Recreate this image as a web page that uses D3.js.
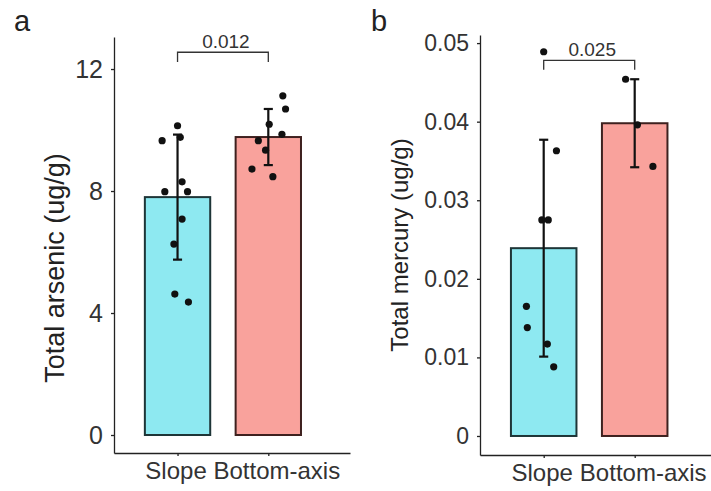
<!DOCTYPE html>
<html>
<head>
<meta charset="utf-8">
<script src="https://cdn.jsdelivr.net/npm/d3@7"></script>
<style>
  html, body { margin: 0; padding: 0; background: #fff; }
  svg { display: block; font-family: "Liberation Sans", Arial, Helvetica, sans-serif; }
</style>
</head>
<body>
<svg id="chart" width="711" height="491"></svg>
<script>
// ---------- data ----------
const categories = ["Slope", "Bottom-axis"];

// Panel a: total arsenic (ug/g)
const arsenicMeans = [7.8, 9.77];
const arsenicSD = [2.05, 0.92];
const arsenicSlope = [10.14, 9.65, 9.76, 8.3, 7.98, 7.98, 7.08, 6.26, 4.62, 4.36];
const arsenicSlopeJitter = [0.0, -0.17, 0.03, 0.05, -0.14, 0.11, 0.05, -0.04, -0.03, 0.12];
const arsenicBottom = [11.12, 10.69, 10.19, 9.86, 9.65, 9.34, 8.72, 8.47];
const arsenicBottomJitter = [0.16, 0.19, 0.01, 0.15, -0.11, -0.03, -0.18, 0.05];
const arsenicTicks = [0, 4, 8, 12];
const arsenicBracket = [12.55, 12.23]; // bracket top, bracket leg end
const arsenicP = "0.012";

// Panel b: total mercury (ug/g)
const mercuryMeans = [0.0239, 0.0398];
const mercurySD = [0.0138, 0.0056];
const mercurySlope = [0.0489, 0.0363, 0.0275, 0.0275, 0.0165, 0.0138, 0.0117, 0.0088];
const mercurySlopeJitter = [0.0, 0.14, -0.02, 0.05, -0.19, -0.18, 0.04, 0.11];
const mercuryBottom = [0.0454, 0.0396, 0.0343];
const mercuryBottomJitter = [-0.1, 0.03, 0.2];
const mercuryTicks = [0, 0.01, 0.02, 0.03, 0.04, 0.05];
const mercuryBracket = [0.0478, 0.0466];
const mercuryP = "0.025";

const fills = ["#8EE9F1", "#F9A29C"];
const strokes = ["#1E3537", "#3E211F"];

// ---------- drawing ----------
const svg = d3.select("#chart");

function drawPanel(cfg) {
  const g = svg.append("g");
  const x = d3.scaleLinear().domain([0.3, 2.9]).range(cfg.xRange);
  const y = d3.scaleLinear().domain(cfg.yDomain).range(cfg.yRange);
  const step = x(2) - x(1);
  const barW = 0.72;

  // bars
  g.selectAll("rect.bar").data(cfg.means).join("rect")
    .attr("class", "bar")
    .attr("x", (d, i) => x(i + 1 - barW / 2))
    .attr("width", x(1 + barW / 2) - x(1 - barW / 2))
    .attr("y", d => y(d))
    .attr("height", d => y(0) - y(d))
    .attr("fill", (d, i) => fills[i])
    .attr("stroke", (d, i) => strokes[i])
    .attr("stroke-width", 2);

  // points
  const pts = [];
  cfg.points.forEach((arr, i) => arr.forEach((v, j) => pts.push({ c: i + 1, v, jit: cfg.jitters[i][j] })));
  g.selectAll("circle.pt").data(pts).join("circle")
    .attr("class", "pt")
    .attr("cx", d => x(d.c + d.jit))
    .attr("cy", d => y(d.v))
    .attr("r", 3.6)
    .attr("fill", "#111");

  // error bars
  const eb = g.selectAll("g.eb").data(cfg.means).join("g").attr("class", "eb")
    .attr("stroke", "#111").attr("stroke-width", 2.2).attr("fill", "none");
  const capHalf = 0.05;
  eb.append("line")
    .attr("x1", (d, i) => x(i + 1)).attr("x2", (d, i) => x(i + 1))
    .attr("y1", (d, i) => y(d - cfg.sd[i])).attr("y2", (d, i) => y(d + cfg.sd[i]));
  eb.append("line")
    .attr("x1", (d, i) => x(i + 1 - capHalf)).attr("x2", (d, i) => x(i + 1 + capHalf))
    .attr("y1", (d, i) => y(d + cfg.sd[i])).attr("y2", (d, i) => y(d + cfg.sd[i]));
  eb.append("line")
    .attr("x1", (d, i) => x(i + 1 - capHalf)).attr("x2", (d, i) => x(i + 1 + capHalf))
    .attr("y1", (d, i) => y(d - cfg.sd[i])).attr("y2", (d, i) => y(d - cfg.sd[i]));

  // significance bracket
  const [bTop, bLeg] = cfg.bracket;
  g.append("path")
    .attr("d", `M${x(1)},${y(bLeg)}V${y(bTop)}H${x(2)}V${y(bLeg)}`)
    .attr("fill", "none").attr("stroke", "#333").attr("stroke-width", 1.3);
  g.append("text")
    .attr("x", (x(1) + x(2)) / 2 + 3)
    .attr("y", y(bTop) - 4)
    .attr("text-anchor", "middle")
    .attr("font-size", 19)
    .attr("fill", "#333")
    .text(cfg.p);

  // y axis
  const yAxis = g.append("g")
    .attr("transform", `translate(${cfg.xRange[0]},0)`)
    .call(d3.axisLeft(y).tickValues(cfg.ticks).tickFormat(cfg.fmt).tickSize(3).tickSizeOuter(0).tickPadding(8));
  yAxis.select(".domain").attr("stroke", "#222").attr("stroke-width", 1.3);
  yAxis.selectAll(".tick line").attr("stroke", "#222").attr("stroke-width", 1.3);
  yAxis.selectAll(".tick text").attr("font-size", cfg.tickFont).attr("fill", "#333")
    .attr("font-family", "Liberation Sans, Arial, sans-serif");

  // x axis
  const xAxis = g.append("g")
    .attr("transform", `translate(0,${cfg.yRange[0]})`)
    .call(d3.axisBottom(x).tickValues([1, 2]).tickFormat(d => categories[d - 1]).tickSize(3).tickSizeOuter(0).tickPadding(6));
  xAxis.select(".domain").attr("stroke", "#222").attr("stroke-width", 1.3);
  xAxis.selectAll(".tick line").attr("stroke", "#222").attr("stroke-width", 1.3);
  xAxis.selectAll(".tick text").attr("font-size", 24).attr("fill", "#333")
    .attr("font-family", "Liberation Sans, Arial, sans-serif")
    .attr("dx", (d, i) => i === 0 ? -2 : 8);

  // y title
  g.append("text")
    .attr("transform", `translate(${cfg.titleX},${cfg.titleY}) rotate(-90)`)
    .attr("text-anchor", "middle")
    .attr("font-size", cfg.titleFont)
    .attr("fill", "#222")
    .text(cfg.title);

  // panel letter
  g.append("text")
    .attr("x", cfg.letterX).attr("y", 31)
    .attr("font-size", 29)
    .attr("fill", "#222")
    .text(cfg.letter);
}

drawPanel({
  xRange: [114, 350], yDomain: [-0.59, 13.05], yRange: [453, 37],
  means: arsenicMeans, sd: arsenicSD,
  points: [arsenicSlope, arsenicBottom], jitters: [arsenicSlopeJitter, arsenicBottomJitter],
  ticks: arsenicTicks, fmt: d3.format("d"), tickFont: 25,
  bracket: arsenicBracket, p: arsenicP,
  title: "Total arsenic (ug/g)", titleX: 64, titleY: 268, titleFont: 27,
  letter: "a", letterX: 14
});

drawPanel({
  xRange: [480, 716.6], yDomain: [-0.00242, 0.05103], yRange: [455, 35],
  means: mercuryMeans, sd: mercurySD,
  points: [mercurySlope, mercuryBottom], jitters: [mercurySlopeJitter, mercuryBottomJitter],
  ticks: mercuryTicks, fmt: d => d === 0 ? "0" : d3.format(".2f")(d), tickFont: 23,
  bracket: mercuryBracket, p: mercuryP,
  title: "Total mercury (ug/g)", titleX: 408, titleY: 245, titleFont: 24,
  letter: "b", letterX: 371
});
</script>
</body>
</html>
